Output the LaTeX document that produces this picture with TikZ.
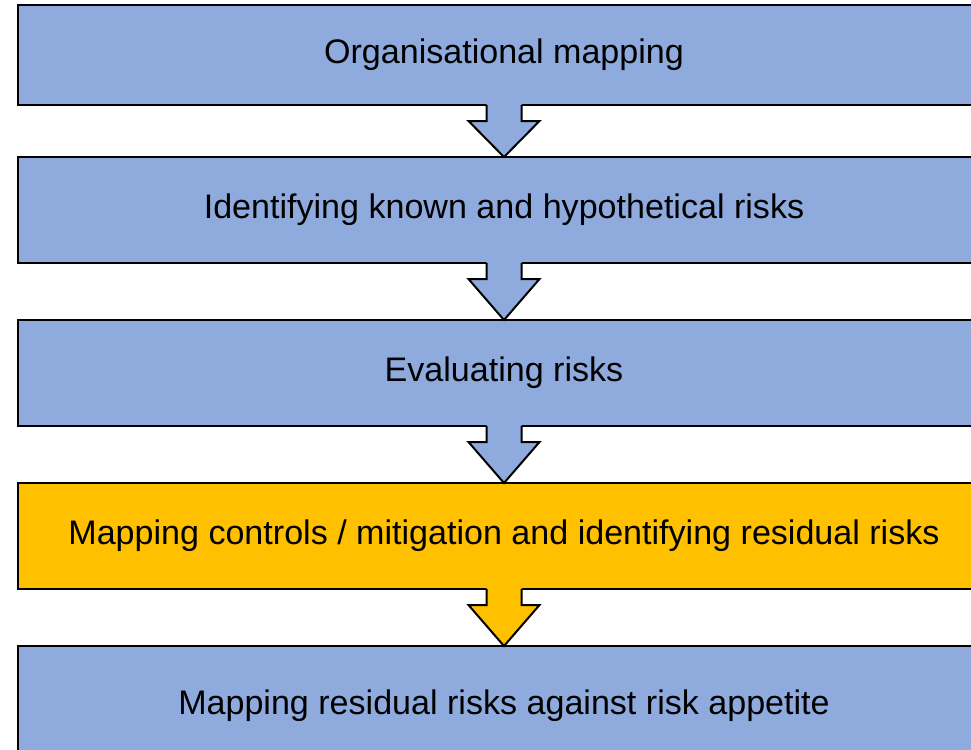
\documentclass[tikz,border=0pt]{standalone}
\usepackage{fontspec}
\setmainfont{Liberation Sans}
\usepackage{tikz}
\usetikzlibrary{positioning,calc}
\definecolor{stepblue}{RGB}{143,170,220}
\definecolor{stepgold}{RGB}{255,192,0}

% block arrow hanging from one box down to the next
\newcommand{\stepdown}[3]{%
  \fill[#3] ($(#1.south)+(-17.5,-3)$) -- ($(#1.south)+(-17.5,16)$)
    -- ($(#1.south)+(-35.5,16)$) -- (#2.north) -- ($(#1.south)+(35.5,16)$)
    -- ($(#1.south)+(17.5,16)$) -- ($(#1.south)+(17.5,-3)$) -- cycle;
  \draw[arrowline] ($(#1.south)+(-17.5,0)$) -- ($(#1.south)+(-17.5,16)$)
    -- ($(#1.south)+(-35.5,16)$) -- (#2.north) -- ($(#1.south)+(35.5,16)$)
    -- ($(#1.south)+(17.5,16)$) -- ($(#1.south)+(17.5,0)$);
}

\begin{document}
\begin{tikzpicture}[
    x=1bp, y=-1bp,
    node distance=57bp,
    stepbox/.style={draw, line width=2bp, outer sep=0pt, minimum width=972bp,
                    minimum height=106bp, inner sep=0pt,
                    font=\fontsize{34.2}{40}\selectfont},
    arrowline/.style={draw, line width=2bp, line join=miter}
]
    \useasboundingbox (0,0) rectangle (971,750);
    \clip (0,0) rectangle (971,750);

    % Process steps
    \node[stepbox, fill=stepblue, minimum height=100bp] (orgmap) at (504,55) {Organisational mapping};
    \node[stepbox, fill=stepblue, below=52bp of orgmap] (identify) {Identifying known and hypothetical risks};
    \node[stepbox, fill=stepblue, below=of identify] (evaluate) {Evaluating risks};
    \node[stepbox, fill=stepgold, below=of evaluate] (controls) {Mapping controls / mitigation and identifying residual risks};
    \node[stepbox, fill=stepblue, below=of controls, minimum height=120bp] (appetite) {Mapping residual risks against risk appetite};

    % Arrows between steps
    \stepdown{orgmap}{identify}{stepblue}
    \stepdown{identify}{evaluate}{stepblue}
    \stepdown{evaluate}{controls}{stepblue}
    \stepdown{controls}{appetite}{stepgold}
\end{tikzpicture}
\end{document}
